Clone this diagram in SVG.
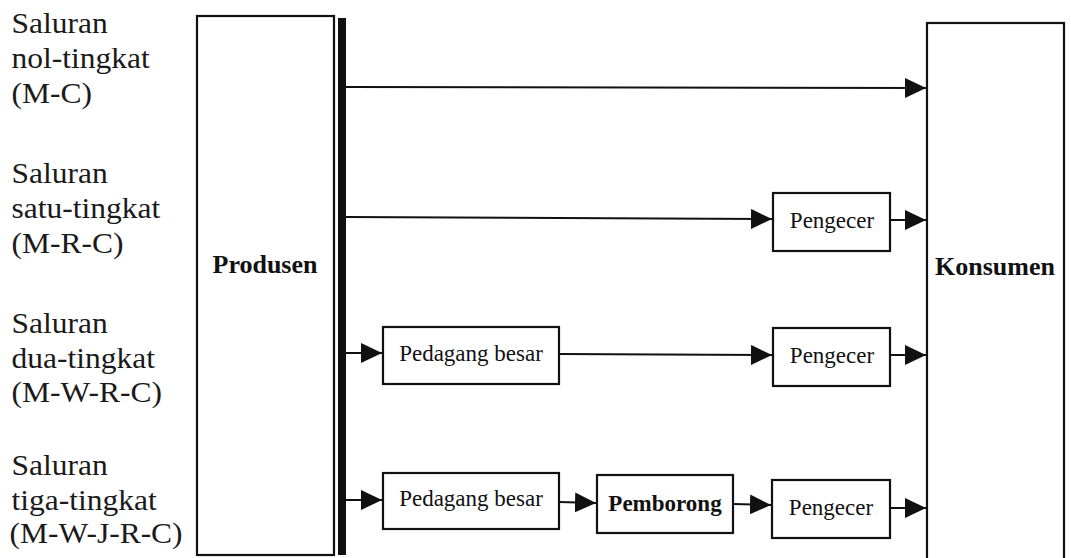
<svg xmlns="http://www.w3.org/2000/svg" width="1071" height="558" viewBox="0 0 1071 558">
  <style>
    .box { fill: #ffffff; stroke: #111111; stroke-width: 2.2; }
    .big { font-family: "Liberation Serif", "Times New Roman", serif; font-size: 26px; font-weight: bold; fill: #111111; text-anchor: middle; }
    .sm { font-family: "Liberation Serif", "Times New Roman", serif; font-size: 23px; fill: #111111; text-anchor: middle; }
    .smb { font-family: "Liberation Serif", "Times New Roman", serif; font-size: 23px; font-weight: bold; fill: #111111; text-anchor: middle; }
    .ln { stroke: #111111; stroke-width: 2; fill: none; }
  </style>
  <defs>
    <marker id="arr" markerUnits="userSpaceOnUse" markerWidth="22" markerHeight="20" refX="21" refY="10" orient="auto">
      <path d="M0,0 L21,10 L0,20 Z" fill="#111111"/>
    </marker>
  </defs>
  <rect width="1071" height="558" fill="#ffffff"/>

  <g font-family="'Liberation Serif', 'Times New Roman', serif" font-size="30" fill="#1a1a1a" transform="scale(1.05,1)">
    <g id="label-row1">
      <text x="11" y="33">Saluran</text>
      <text x="11" y="68">nol-tingkat</text>
      <text x="11" y="103">(M-C)</text>
    </g>
    <g id="label-row2">
      <text x="11" y="183">Saluran</text>
      <text x="11" y="218">satu-tingkat</text>
      <text x="11" y="253">(M-R-C)</text>
    </g>
    <g id="label-row3">
      <text x="11" y="333">Saluran</text>
      <text x="11" y="368">dua-tingkat</text>
      <text x="11" y="402">(M-W-R-C)</text>
    </g>
    <g id="label-row4">
      <text x="11" y="475">Saluran</text>
      <text x="11" y="510">tiga-tingkat</text>
      <text x="9" y="543">(M-W-J-R-C)</text>
    </g>
  </g>

  <g id="produsen">
    <rect class="box" x="197" y="16" width="137" height="539"/>
    <text class="big" x="265" y="273">Produsen</text>
  </g>
  <g id="bar">
    <rect x="338" y="18" width="8" height="537" fill="#111111"/>
  </g>
  <g id="konsumen">
    <rect class="box" x="927" y="23" width="137" height="540"/>
    <text class="big" x="995" y="275">Konsumen</text>
  </g>

  <g id="pengecer-2">
    <rect class="box" x="773" y="193" width="117" height="58"/>
    <text class="sm" x="832" y="228">Pengecer</text>
  </g>
  <g id="pedagang-3">
    <rect class="box" x="383" y="327" width="176" height="57"/>
    <text class="sm" x="471" y="361">Pedagang besar</text>
  </g>
  <g id="pengecer-3">
    <rect class="box" x="773" y="328" width="117" height="58"/>
    <text class="sm" x="832" y="363">Pengecer</text>
  </g>
  <g id="pedagang-4">
    <rect class="box" x="383" y="473" width="176" height="56"/>
    <text class="sm" x="471" y="506">Pedagang besar</text>
  </g>
  <g id="pemborong-4">
    <rect class="box" x="597" y="475" width="136" height="58"/>
    <text class="smb" x="665" y="511">Pemborong</text>
  </g>
  <g id="pengecer-4">
    <rect class="box" x="772" y="480" width="118" height="58"/>
    <text class="sm" x="831" y="515">Pengecer</text>
  </g>

  <g id="connectors">
    <line class="ln" x1="346" y1="87" x2="926" y2="88" marker-end="url(#arr)"/>
    <line class="ln" x1="346" y1="217" x2="772" y2="219" marker-end="url(#arr)"/>
    <line class="ln" x1="890" y1="220" x2="926" y2="220" marker-end="url(#arr)"/>
    <line class="ln" x1="346" y1="353" x2="382" y2="353" marker-end="url(#arr)"/>
    <line class="ln" x1="559" y1="354" x2="772" y2="355" marker-end="url(#arr)"/>
    <line class="ln" x1="890" y1="355" x2="926" y2="355" marker-end="url(#arr)"/>
    <line class="ln" x1="346" y1="500" x2="382" y2="500" marker-end="url(#arr)"/>
    <line class="ln" x1="559" y1="502" x2="596" y2="503" marker-end="url(#arr)"/>
    <line class="ln" x1="733" y1="504" x2="771" y2="505" marker-end="url(#arr)"/>
    <line class="ln" x1="890" y1="508" x2="926" y2="508" marker-end="url(#arr)"/>
  </g>
</svg>
